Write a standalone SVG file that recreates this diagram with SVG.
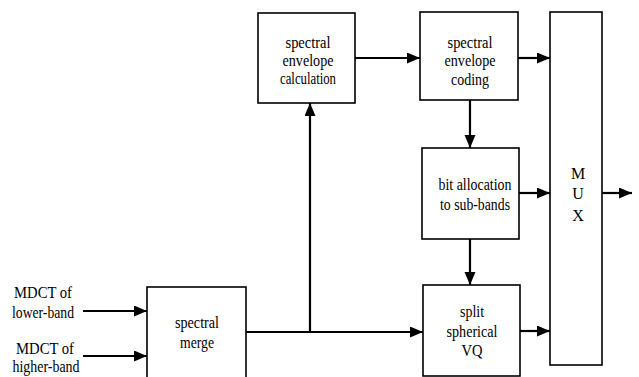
<svg xmlns="http://www.w3.org/2000/svg" width="639" height="377" viewBox="0 0 639 377">
<style>
.box{fill:#fff;stroke:#000;stroke-width:1.6}
.t{font-family:"Liberation Serif","Times New Roman",serif;font-size:16px;fill:#000;text-anchor:middle}
.c{fill:none;stroke:#000;stroke-width:2.2}
</style>
<defs>
<marker id="ah" markerUnits="userSpaceOnUse" markerWidth="14" markerHeight="12" refX="13" refY="5.5" orient="auto">
<path d="M0,0 L13,5.5 L0,11 z" fill="#000"/>
</marker>
</defs>
<rect width="639" height="377" fill="#fff"/>
<g id="inputs">
<text class="t" x="43" y="298" textLength="58" lengthAdjust="spacingAndGlyphs">MDCT of</text>
<text class="t" x="43" y="318" textLength="62" lengthAdjust="spacingAndGlyphs">lower-band</text>
<text class="t" x="45" y="354" textLength="58" lengthAdjust="spacingAndGlyphs">MDCT of</text>
<text class="t" x="46" y="372" textLength="67" lengthAdjust="spacingAndGlyphs">higher-band</text>
</g>
<g id="merge">
<rect class="box" x="147" y="287" width="99" height="100"/>
<text class="t" x="197" y="328" textLength="44" lengthAdjust="spacingAndGlyphs">spectral</text>
<text class="t" x="197" y="348" textLength="34" lengthAdjust="spacingAndGlyphs">merge</text>
</g>
<g id="calc">
<rect class="box" x="258" y="13" width="97" height="90"/>
<text class="t" x="308" y="48" textLength="45" lengthAdjust="spacingAndGlyphs">spectral</text>
<text class="t" x="308" y="66" textLength="51" lengthAdjust="spacingAndGlyphs">envelope</text>
<text class="t" x="308" y="84" textLength="56" lengthAdjust="spacingAndGlyphs">calculation</text>
</g>
<g id="coding">
<rect class="box" x="420" y="12" width="98" height="88"/>
<text class="t" x="470" y="48" textLength="45" lengthAdjust="spacingAndGlyphs">spectral</text>
<text class="t" x="470" y="66" textLength="51" lengthAdjust="spacingAndGlyphs">envelope</text>
<text class="t" x="470" y="85" textLength="38" lengthAdjust="spacingAndGlyphs">coding</text>
</g>
<g id="bitalloc">
<rect class="box" x="422" y="148" width="97" height="91"/>
<text class="t" x="475" y="190" textLength="73" lengthAdjust="spacingAndGlyphs">bit allocation</text>
<text class="t" x="475" y="210" textLength="70" lengthAdjust="spacingAndGlyphs">to sub-bands</text>
</g>
<g id="vq">
<rect class="box" x="423" y="285" width="97" height="91"/>
<text class="t" x="472" y="317" textLength="24" lengthAdjust="spacingAndGlyphs">split</text>
<text class="t" x="472" y="337" textLength="51" lengthAdjust="spacingAndGlyphs">spherical</text>
<text class="t" x="472" y="356" textLength="21" lengthAdjust="spacingAndGlyphs">VQ</text>
</g>
<g id="mux">
<rect class="box" x="550" y="12" width="52" height="353"/>
<text class="t" x="578" y="179">M</text>
<text class="t" x="578" y="199">U</text>
<text class="t" x="578" y="221">X</text>
</g>
<g id="connectors">
<line class="c" x1="83" y1="311" x2="147" y2="311" marker-end="url(#ah)"/>
<line class="c" x1="83" y1="356" x2="147" y2="356" marker-end="url(#ah)"/>
<line class="c" x1="246" y1="332" x2="423" y2="332" marker-end="url(#ah)"/>
<line class="c" x1="310" y1="332" x2="310" y2="103" marker-end="url(#ah)"/>
<line class="c" x1="355" y1="58" x2="420" y2="58" marker-end="url(#ah)"/>
<line class="c" x1="518" y1="58" x2="550" y2="58" marker-end="url(#ah)"/>
<line class="c" x1="470" y1="100" x2="470" y2="148" marker-end="url(#ah)"/>
<line class="c" x1="519" y1="193" x2="550" y2="193" marker-end="url(#ah)"/>
<line class="c" x1="470" y1="239" x2="470" y2="285" marker-end="url(#ah)"/>
<line class="c" x1="520" y1="331" x2="550" y2="331" marker-end="url(#ah)"/>
<line class="c" x1="602" y1="193" x2="632" y2="193" marker-end="url(#ah)"/>
</g>
</svg>
